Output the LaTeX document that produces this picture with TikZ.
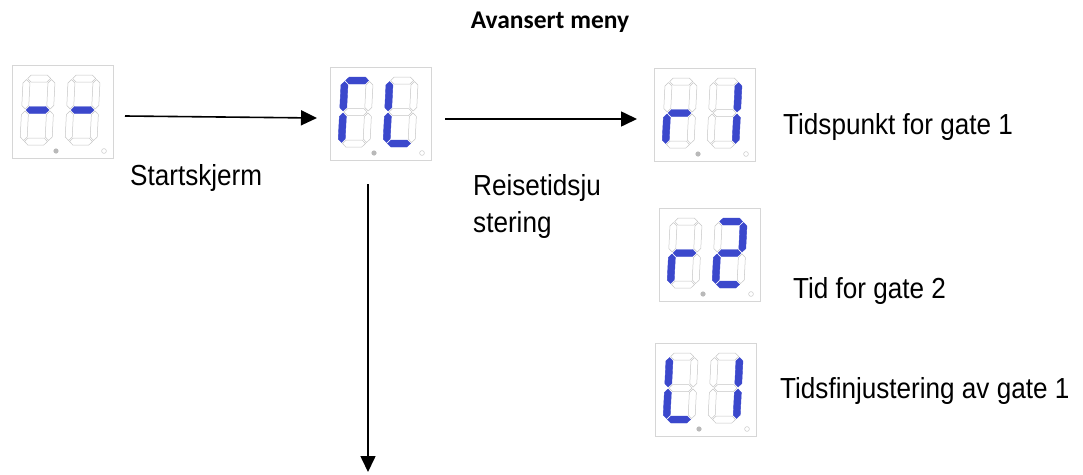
\documentclass[tikz,border=0pt]{standalone}
\usepackage{fontspec}
\setmainfont{Liberation Sans}
\newfontfamily\labfont[FakeStretch=0.9]{Liberation Sans}
\newfontfamily\titlefont{Carlito}
\usetikzlibrary{arrows.meta}
\definecolor{segblue}{HTML}{3B48CC}
\definecolor{boxgray}{HTML}{D6D6D6}
\tikzset{
  sg1/.style={fill=segblue,draw=segblue,line width=0.4pt},
  sg0/.style={fill=white,draw=gray!45,line width=0.5pt},
  dispbox/.style={draw=boxgray,line width=0.6pt,minimum width=101pt,minimum height=93pt,inner sep=0pt,anchor=north west},
  lab/.style={font=\labfont\fontsize{29}{35}\selectfont,anchor=base west,inner sep=0pt},
  arr/.style={line width=1.6pt,-{Triangle[length=16pt,width=15pt]}},
}
\newcommand\hseg[4]{\filldraw[#1] ({#2+1},#4) -- ({#2+4.5},{#4-3.5}) -- ({#3-4.5},{#4-3.5}) -- ({#3-1},#4) -- ({#3-4.5},{#4+3.5}) -- ({#2+4.5},{#4+3.5}) -- cycle;}
\newcommand\vseg[4]{\filldraw[#1] (#2,{#3+1}) -- ({#2+3.5},{#3+4.5}) -- ({#2+3.5},{#4-4.5}) -- (#2,{#4-1}) -- ({#2-3.5},{#4-4.5}) -- ({#2-3.5},{#3+4.5}) -- cycle;}
\newcommand\digit[9]{%
  \begin{scope}[shift={(#1,#2)},xslant=0.05]
    \hseg{#3}{0}{25}{0}
    \vseg{#4}{25}{0}{31.5}
    \vseg{#5}{25}{31.5}{63}
    \hseg{#6}{0}{25}{63}
    \vseg{#7}{0}{31.5}{63}
    \vseg{#8}{0}{0}{31.5}
    \hseg{#9}{0}{25}{31.5}
  \end{scope}}
\newcommand\dispframe[3]{%
  \node[dispbox] (#1) at (#2,#3) {};
  \fill[gray!55] ({#2+44},{#3+86}) circle (2.6pt);
  \draw[gray!45,line width=0.5pt] ({#2+92},{#3+86}) circle (2.4pt);}
\begin{document}
\begin{tikzpicture}[x=1pt,y=-1pt]
\useasboundingbox (0,0) rectangle (1083,474);
% title
\node[font=\titlefont\bfseries\fontsize{25.5}{30}\selectfont,anchor=base,inner sep=0pt] (title) at (550,28) {Avansert meny};
% display 1 "--"
\dispframe{d1}{12}{65}
\digit{26.65}{78.5}{sg0}{sg0}{sg0}{sg0}{sg0}{sg0}{sg1}
\digit{71.65}{78.5}{sg0}{sg0}{sg0}{sg0}{sg0}{sg0}{sg1}
% display 2
\dispframe{d2}{330}{67}
\digit{344.65}{80.5}{sg1}{sg0}{sg0}{sg0}{sg1}{sg1}{sg0}
\digit{389.65}{80.5}{sg0}{sg0}{sg0}{sg1}{sg1}{sg1}{sg0}
% display 3 "r1"
\dispframe{d3}{654}{68}
\digit{668.65}{81.5}{sg0}{sg0}{sg0}{sg0}{sg1}{sg0}{sg1}
\digit{713.65}{81.5}{sg0}{sg1}{sg1}{sg0}{sg0}{sg0}{sg0}
% display 4 "r2"
\dispframe{d4}{659}{208}
\digit{673.65}{221.5}{sg0}{sg0}{sg0}{sg0}{sg1}{sg0}{sg1}
\digit{718.65}{221.5}{sg1}{sg1}{sg0}{sg1}{sg1}{sg0}{sg1}
% display 5 "L1"
\dispframe{d5}{655}{343}
\digit{669.65}{356.5}{sg0}{sg0}{sg0}{sg1}{sg1}{sg1}{sg0}
\digit{714.65}{356.5}{sg0}{sg1}{sg1}{sg0}{sg0}{sg0}{sg0}
% labels
\node[lab] (l1) at (130,185) {Startskjerm};
\node[lab] (l2a) at (473,195) {Reisetidsju};
\node[lab] (l2b) at (473,232) {stering};
\node[lab] (l3) at (783,134) {Tidspunkt for gate 1};
\node[lab] (l4) at (793,298) {Tid for gate 2};
\node[lab] (l5) at (780,398) {Tidsfinjustering av gate 1};
% arrows
\coordinate (a1s) at (125,116);
\coordinate (a1e) at (317,118);
\coordinate (a2s) at (445,119);
\coordinate (a2e) at (637,119);
\coordinate (a3s) at (368,184);
\coordinate (a3e) at (368,472);
\draw[arr] (a1s) -- (a1e);
\draw[arr] (a2s) -- (a2e);
\draw[arr] (a3s) -- (a3e);
\end{tikzpicture}
\end{document}
